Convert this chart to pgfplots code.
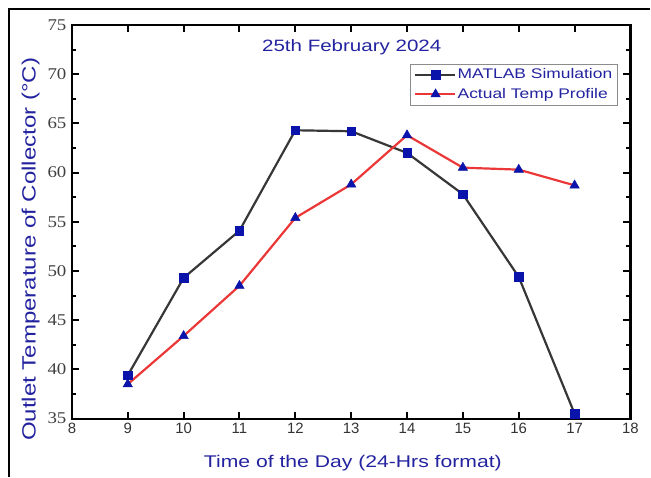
\documentclass[border=0pt]{standalone}
\usepackage{pgfplots}
\pgfplotsset{compat=1.18}
\usepackage{fontspec}
\setmainfont{Liberation Sans}
\newfontfamily\widefont[FakeStretch=1.25]{Liberation Sans}
\newfontfamily\seriffont[FakeStretch=1.15]{Liberation Serif}
\definecolor{navy}{RGB}{35,35,160}
\definecolor{mblue}{RGB}{10,20,170}
\definecolor{dgrey}{RGB}{55,55,55}
\definecolor{lred}{RGB}{235,55,55}
\begin{document}
\begin{tikzpicture}[x=1bp,y=1bp]
\path (-72bp,-58bp) rectangle (579bp,419bp);
\draw[line width=1.2bp,black] (-63bp,-58bp) -- (-63bp,410bp) -- (579bp,410bp);
\begin{axis}[
  scale only axis,
  width=559bp, height=394bp,
  xmin=8, xmax=18, ymin=35, ymax=75,
  xtick={8,...,18},
  ytick={35,40,...,75},
  minor y tick num=1,
  tick align=inside,
  major tick length=7bp,
  minor tick length=4bp,
  every tick/.style={black, line width=2bp},
  axis line style={line width=2.2bp},
  /pgf/number format/assume math mode=true,
  xticklabel style={font=\fontsize{15}{16}\selectfont, text=black!80, yshift=-1bp},
  yticklabel style={font=\seriffont\fontsize{16.5}{17}\selectfont, text=black!75, xshift=-2bp},
  xlabel={Time of the Day (24-Hrs format)},
  ylabel={Outlet Temperature of Collector (°C)},
  xlabel style={font=\widefont\fontsize{17}{18}\selectfont, text=navy,
     at={(axis description cs:0.503,-0.114)}, anchor=center},
  ylabel style={font=\widefont\fontsize{19.3}{20}\selectfont, text=navy,
     at={(axis description cs:-0.074,0.43)}, anchor=center},
  legend style={at={(axis description cs:0.977,0.902)}, anchor=north east,
    draw=black!45, line width=0.7bp, font=\widefont\fontsize{14}{15}\selectfont,
    text=navy, inner sep=3bp, row sep=4bp,
    nodes={inner sep=2bp}},
  legend cell align=left,
  legend image code/.code={%
    \draw[mark repeat=2,mark phase=2] plot coordinates {(-2bp,0bp) (19bp,0bp) (38bp,0bp)};},
]
\addplot[dgrey, line width=2.2bp, mark=square*, mark size=4.2bp,
  mark options={fill=mblue, draw=mblue, solid, line width=0.5bp}]
  coordinates {(9,39.4) (10,49.3) (11,54.1) (12,64.3) (13,64.2) (14,62.0) (15,57.8) (16,49.4) (17,35.5)};
\addlegendentry{MATLAB Simulation}
\addplot[lred, line width=2.2bp, mark=triangle*, mark size=5.4bp,
  mark options={fill=mblue, draw=mblue, solid, line width=0.5bp}]
  coordinates {(9,38.5) (10,43.4) (11,48.5) (12,55.4) (13,58.8) (14,63.8) (15,60.5) (16,60.3) (17,58.7)};
\addlegendentry{Actual Temp Profile}
\node[text=navy, font=\widefont\fontsize{16.5}{17}\selectfont] at (axis description cs:0.501,0.944) {25th February 2024};
\end{axis}
\end{tikzpicture}
\end{document}
